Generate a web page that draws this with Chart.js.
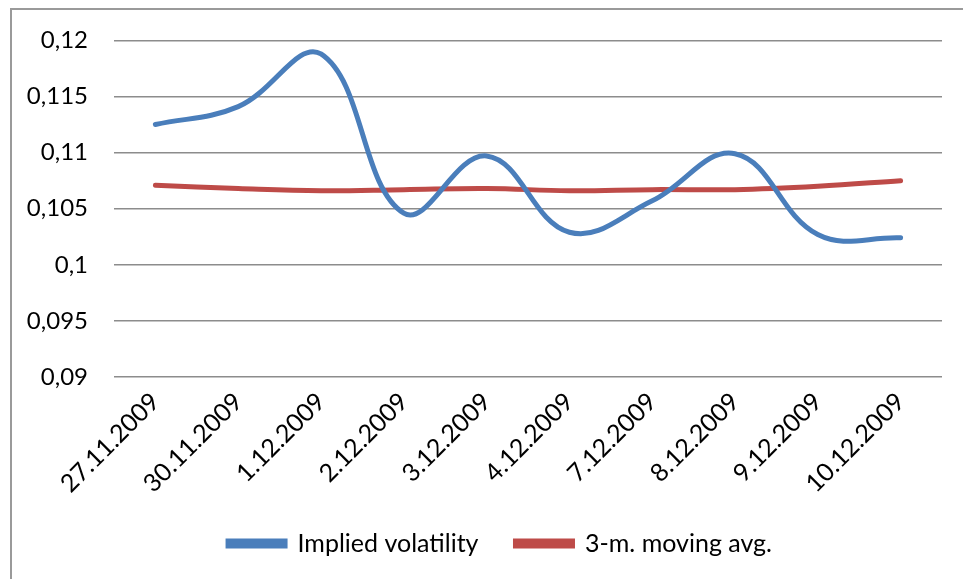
<!DOCTYPE html>
<html>
<head>
<meta charset="utf-8">
<script src="https://cdn.jsdelivr.net/npm/chart.js@4"></script>
<style>
    html, body { margin: 0; padding: 0; background: #fff; overflow: hidden; }
    #frame {
        position: absolute; left: 10px; top: 8px;
        width: 1100px; height: 700px;
        border: 2px solid #9a9a9a;
    }
    #wrap { position: absolute; left: 0; top: 0; width: 1000px; height: 579px; }
</style>
</head>
<body>
<div id="frame"></div>
<div id="wrap"><canvas id="volChart"></canvas></div>
<script>
const dateLabels = [
    '27.11.2009',
    '30.11.2009',
    '1.12.2009',
    '2.12.2009',
    '3.12.2009',
    '4.12.2009',
    '7.12.2009',
    '8.12.2009',
    '9.12.2009',
    '10.12.2009',
];
const impliedVol = [0.1125, 0.1141, 0.1188, 0.1046, 0.1097, 0.1029, 0.1057, 0.1099, 0.1027, 0.1024];
const movingAvg = [0.1071, 0.1068, 0.1066, 0.1067, 0.1068, 0.1066, 0.1067, 0.1067, 0.107, 0.1075];
const seriesNames = ['Implied volatility', '3-m. moving avg.'];
const yMin = 0.09;
const yMax = 0.12;
const yStep = 0.005;

const fontFamily = 'Lato, "Open Sans", sans-serif';
const gridColor = '#8c8c8c';

// 0.115 -> "0,115"
const commaNum = (v) => String(+v.toFixed(3)).replace('.', ',');

const lineSet = (label, data, color) => ({
    label: label,
    data: data,
    borderColor: color,
    backgroundColor: color,
    borderWidth: 5,
    borderCapStyle: 'round',
    pointRadius: 0,
    pointHoverRadius: 0,
    tension: 0.4,
    fill: false,
});

var volChart = new Chart(document.getElementById('volChart').getContext('2d'), {
    type: 'line',
    data: {
        labels: dateLabels,
        datasets: [
            lineSet(seriesNames[0], impliedVol, '#4a7ebb'),
            lineSet(seriesNames[1], movingAvg, '#be4b48'),
        ],
    },
    options: {
        responsive: true,
        maintainAspectRatio: false,
        animation: false,
        layout: { padding: { top: 36, right: 0, bottom: 13, left: 0 } },
        plugins: {
            tooltip: { enabled: false },
            legend: {
                position: 'bottom',
                labels: {
                    boxWidth: 57,
                    boxHeight: 5,
                    padding: 37,
                    color: '#000',
                    font: { family: fontFamily, size: 25 },
                },
            },
        },
        scales: {
            x: {
                offset: true,
                grid: { display: false },
                border: { display: false },
                ticks: {
                    color: '#000',
                    font: { family: fontFamily, size: 25 },
                    minRotation: 45,
                    maxRotation: 45,
                    padding: 2,
                },
                afterFit: (scale) => { scale.height = 117; },
            },
            y: {
                min: yMin,
                max: yMax,
                grid: { color: gridColor, lineWidth: 1.5, drawTicks: false },
                border: { display: false },
                ticks: {
                    stepSize: yStep,
                    padding: 26,
                    color: '#000',
                    font: { family: fontFamily, size: 24 },
                    callback: (v) => commaNum(v),
                },
                afterFit: (scale) => { scale.width = 114; },
            },
            // empty right-hand spacer so the legend stays centred on the full width
            spacer: {
                position: 'right',
                grid: { display: false },
                border: { display: false },
                ticks: { display: false },
                afterFit: (scale) => { scale.width = 58; },
            },
        },
    },
});
</script>
</body>
</html>
